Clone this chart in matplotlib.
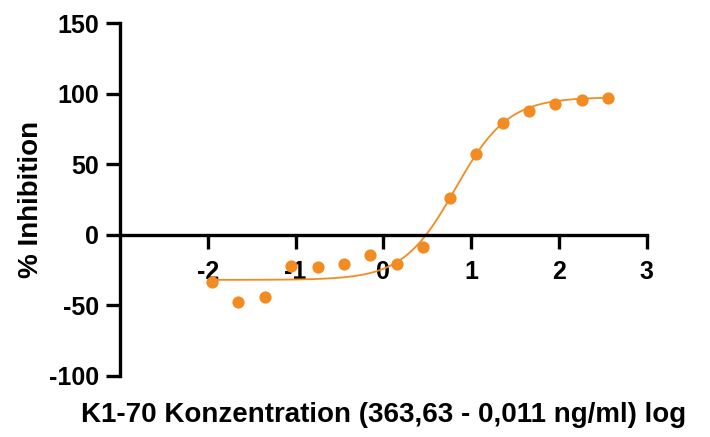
import numpy as np
import matplotlib.pyplot as plt

plt.rcParams['font.family'] = ['Liberation Sans', 'DejaVu Sans']
plt.rcParams['axes.unicode_minus'] = False

# log10 concentration (ng/ml) and measured % inhibition
log_conc = [-1.955, -1.654, -1.352, -1.051, -0.750, -0.449, -0.148, 0.153,
            0.454, 0.755, 1.056, 1.357, 1.658, 1.959, 2.260, 2.561]
inhibition = [-33.8, -47.5, -43.9, -22.0, -22.9, -20.6, -14.4, -20.8,
              -9.0, 26.0, 57.0, 79.0, 87.7, 92.9, 95.7, 96.9]

# 4PL fit parameters
bottom, top, log_ic50, hill = -32.0, 97.5, 0.82, 1.45

xticks = [-2, -1, 0, 1, 2, 3]
yticks = [-100, -50, 0, 50, 100, 150]

orange = '#F28C22'

fig = plt.figure(figsize=(7.1, 4.37), dpi=100)
ax = fig.add_axes([0.169, 0.140, 0.742, 0.807])

xfit = np.linspace(min(log_conc), max(log_conc), 300)
yfit = bottom + (top - bottom) / (1 + 10 ** ((log_ic50 - xfit) * hill))
ax.plot(xfit, yfit, color=orange, lw=1.3)
ax.plot(log_conc, inhibition, 'o', color=orange, ms=8.8, mec='none')

ax.set_xlim(-3, 3)
ax.set_ylim(-100, 150)
ax.set_xticks(xticks)
ax.set_yticks(yticks)

ax.spines['top'].set_visible(False)
ax.spines['right'].set_visible(False)
ax.spines['bottom'].set_position(('data', 0))
for s in ['left', 'bottom']:
    ax.spines[s].set_linewidth(2.4)
ax.tick_params(axis='both', width=2.4, length=10, labelsize=18)
ax.tick_params(axis='y', pad=5)
ax.tick_params(axis='x', pad=8)
for lab in ax.get_xticklabels() + ax.get_yticklabels():
    lab.set_fontweight('bold')

ax.set_ylabel('% Inhibition', fontsize=20, fontweight='bold')
ax.yaxis.set_label_coords(-0.145, 0.5)
ax.set_xlabel('K1-70 Konzentration (363,63 - 0,011 ng/ml) log', fontsize=20,
              fontweight='bold')
ax.xaxis.set_label_coords(0.5, -0.075)

plt.savefig('out.png', dpi=100)
